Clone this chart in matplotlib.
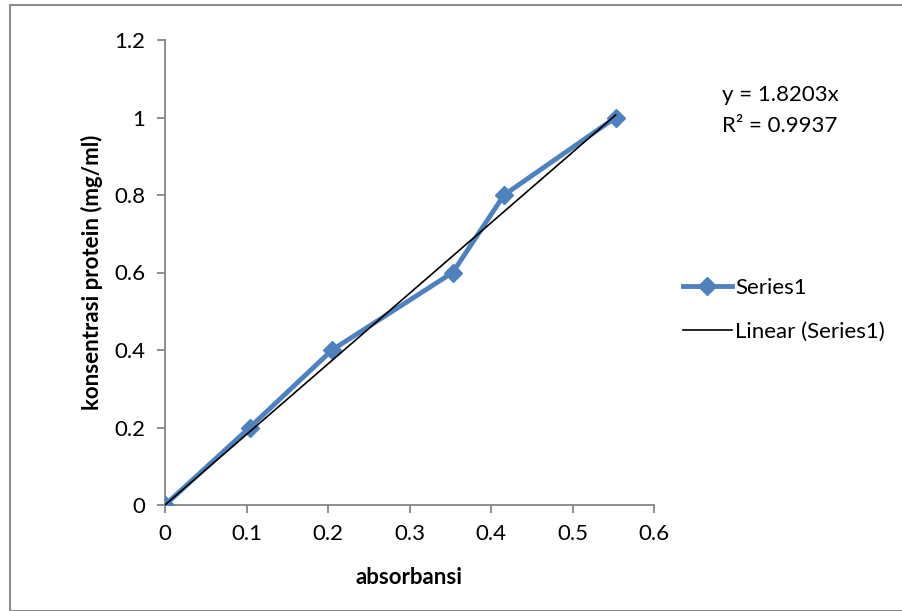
import matplotlib.pyplot as plt
from matplotlib.lines import Line2D
from matplotlib.patches import Rectangle

absorbansi = [0.0, 0.104, 0.205, 0.353, 0.416, 0.553]
konsentrasi = [0.0, 0.2, 0.4, 0.6, 0.8, 1.0]
slope = 1.8203
r2 = 0.9937

plt.rcParams['font.family'] = ['Lato', 'DejaVu Sans']

fig = plt.figure(figsize=(9.02, 6.11), dpi=100)
fig.patches.append(Rectangle((10 / 902, 0.0), 1.0, 1 - 5 / 611, transform=fig.transFigure,
                             fill=False, edgecolor='#8c8c8c', linewidth=1.5))

ax = fig.add_axes([165 / 902, 1 - 505 / 611, (654 - 165) / 902, (505 - 40) / 611])
blue = '#4F81BD'
ax.plot(absorbansi, konsentrasi, color=blue, linewidth=3.5, marker='D', markersize=9,
        markeredgecolor=blue, label='Series1', zorder=3)
x_fit = [0.0, max(absorbansi)]
ax.plot(x_fit, [slope * v for v in x_fit], color='black', linewidth=1.2,
        label='Linear (Series1)', zorder=4)

ax.set_xlim(0, 0.6)
ax.set_ylim(0, 1.2)
ax.set_xticks([0, 0.1, 0.2, 0.3, 0.4, 0.5, 0.6])
ax.set_xticklabels(['0', '0.1', '0.2', '0.3', '0.4', '0.5', '0.6'])
ax.set_yticks([0, 0.2, 0.4, 0.6, 0.8, 1.0, 1.2])
ax.set_yticklabels(['0', '0.2', '0.4', '0.6', '0.8', '1', '1.2'])
for s in ['top', 'right']:
    ax.spines[s].set_visible(False)
for s in ['left', 'bottom']:
    ax.spines[s].set_color('#868686')
    ax.spines[s].set_linewidth(1.3)
ax.tick_params(direction='out', length=6, width=1.3, color='#868686',
               labelsize=16, pad=8)
ax.patch.set_visible(False)

ax.set_xlabel('absorbansi', fontsize=16, fontweight='bold', labelpad=16)
ax.set_ylabel('konsentrasi protein (mg/ml)', fontsize=16, fontweight='bold', labelpad=8)

fig.text(722 / 902, 1 - 95 / 611, 'y = %.4fx' % slope, fontsize=16, va='center')
fig.text(722 / 902, 1 - 126 / 611, 'R² = %.4f' % r2, fontsize=16, va='center')

handles = [Line2D([], [], color=blue, linewidth=3.5, marker='D', markersize=9),
           Line2D([], [], color='black', linewidth=1.2)]
fig.legend(handles, ['Series1', 'Linear (Series1)'], loc='center left',
           bbox_to_anchor=(663 / 902, 1 - 310 / 611), frameon=False, fontsize=16,
           handlelength=2.2, labelspacing=1.1, handletextpad=0.15)

plt.savefig('out.png', dpi=100)
